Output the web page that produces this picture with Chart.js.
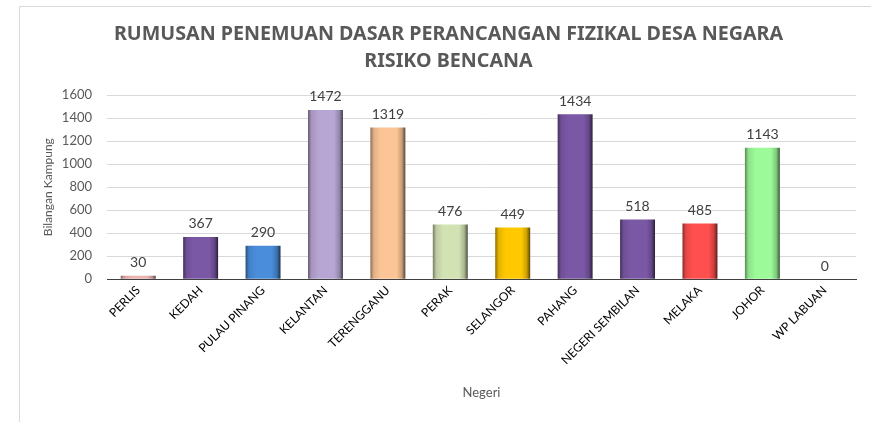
<!DOCTYPE html>
<html>
<head>
<meta charset="utf-8">
<script src="https://cdn.jsdelivr.net/npm/chart.js@4/dist/chart.umd.min.js"></script>
<style>
  html, body { margin: 0; padding: 0; background: #fff; }
  #wrap { position: relative; width: 871px; height: 422px; }
  #frame { position: absolute; left: 19px; top: 6px; right: 0; bottom: 0;
           border-top: 1px solid #d9d9d9; border-left: 1px solid #d9d9d9; }
  canvas { position: absolute; left: 0; top: 0; }
</style>
</head>
<body>
<div id="wrap">
  <div id="frame"></div>
  <canvas id="chart" width="871" height="422"></canvas>
</div>
<script>
// data
const negeri = ['PERLIS', 'KEDAH', 'PULAU PINANG', 'KELANTAN', 'TERENGGANU', 'PERAK',
    'SELANGOR', 'PAHANG', 'NEGERI SEMBILAN', 'MELAKA', 'JOHOR', 'WP LABUAN'];
const bilanganKampung = [30, 367, 290, 1472, 1319, 476, 449, 1434, 518, 485, 1143, 0];
const warnaBar = ['#e9b3b1', '#7b58a6', '#4a8ddb', '#b7a5d3', '#fbc597', '#d3e2b3',
    '#ffc800', '#7b58a6', '#7b58a6', '#ff4f4f', '#9dfa98', '#cccccc'];
const yTicks = [0, 200, 400, 600, 800, 1000, 1200, 1400, 1600];

const CAT_PCT = 0.8;
const BAR_PCT = 0.7;
const FONT = 'Lato, "Noto Sans", sans-serif';

// gelap/cerah warna
function shade(hex, f) {
    const n = parseInt(hex.slice(1), 16);
    let r = (n >> 16) & 255, g = (n >> 8) & 255, b = n & 255;
    if (f < 0) { r *= (1 + f); g *= (1 + f); b *= (1 + f); }
    else { r += (255 - r) * f; g += (255 - g) * f; b += (255 - b) * f; }
    return `rgb(${Math.round(r)},${Math.round(g)},${Math.round(b)})`;
}

// gradien mendatar untuk kesan 3D
function barGradient(context) {
    const chart = context.chart;
    const base = warnaBar[context.dataIndex];
    const xScale = chart.scales.x;
    if (!chart.chartArea || !xScale) return base;
    const cx = xScale.getPixelForValue(context.dataIndex);
    const w = xScale.width / negeri.length * CAT_PCT * BAR_PCT;
    const g = chart.ctx.createLinearGradient(cx - w / 2, 0, cx + w / 2, 0);
    g.addColorStop(0, shade(base, -0.45));
    g.addColorStop(0.1, shade(base, -0.1));
    g.addColorStop(0.3, base);
    g.addColorStop(0.75, base);
    g.addColorStop(0.9, shade(base, -0.2));
    g.addColorStop(1, shade(base, -0.65));
    return g;
}

// label nilai di atas bar
const valueLabels = {
    id: 'valueLabels',
    afterDatasetsDraw(chart) {
        const ctx = chart.ctx;
        const meta = chart.getDatasetMeta(0);
        ctx.save();
        ctx.font = '14px ' + FONT;
        ctx.fillStyle = '#404040';
        ctx.textAlign = 'center';
        ctx.textBaseline = 'bottom';
        meta.data.forEach((bar, i) => {
            ctx.fillText(String(bilanganKampung[i]), bar.x, bar.y - 6);
        });
        ctx.restore();
    }
};

new Chart(document.getElementById('chart'), {
    type: 'bar',
    data: {
        labels: negeri,
        datasets: [{
            data: bilanganKampung,
            backgroundColor: barGradient,
            borderWidth: 0,
            categoryPercentage: CAT_PCT,
            barPercentage: BAR_PCT
        }]
    },
    options: {
        responsive: false,
        animation: false,
        layout: { padding: { left: 41, right: 15, top: 21, bottom: 17 } },
        plugins: {
            legend: { display: false },
            tooltip: { enabled: false },
            title: {
                display: true,
                text: ['RUMUSAN PENEMUAN DASAR PERANCANGAN FIZIKAL DESA NEGARA', 'RISIKO BENCANA'],
                color: '#595959',
                font: { family: '"Noto Sans", sans-serif', size: 19.7, weight: 'bold', lineHeight: 1.35 },
                padding: { top: 0, bottom: 21 }
            }
        },
        scales: {
            x: {
                grid: { display: false, drawTicks: false },
                border: { color: '#404040', width: 1 },
                ticks: {
                    color: '#000',
                    minRotation: 45,
                    maxRotation: 45,
                    autoSkip: false,
                    padding: 4,
                    font: { family: FONT, size: 12 }
                },
                title: {
                    display: true,
                    text: 'Negeri',
                    color: '#595959',
                    font: { family: FONT, size: 13 },
                    padding: { top: 14 }
                }
            },
            y: {
                min: 0,
                max: 1600,
                afterBuildTicks: axis => { axis.ticks = yTicks.map(v => ({ value: v })); },
                afterFit: axis => { axis.width = 66; },
                grid: { color: '#d9d9d9', drawTicks: false },
                border: { display: false },
                ticks: {
                    color: '#595959',
                    padding: 15,
                    callback: v => String(v),
                    font: { family: FONT, size: 13 }
                },
                title: {
                    display: true,
                    text: 'Bilangan Kampung',
                    color: '#595959',
                    font: { family: FONT, size: 12 },
                    padding: { top: 0, bottom: 0 }
                }
            }
        }
    },
    plugins: [valueLabels]
});
</script>
</body>
</html>
